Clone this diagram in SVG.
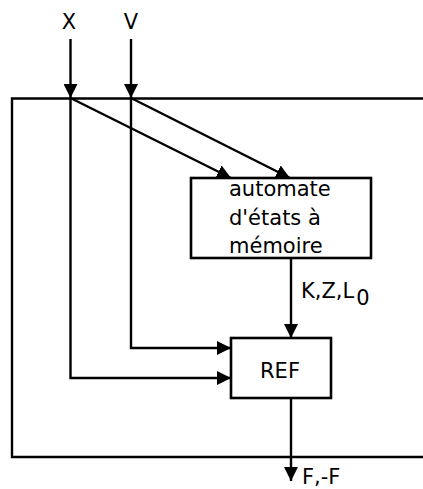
<svg xmlns="http://www.w3.org/2000/svg" width="423" height="489" viewBox="0 0 423 489">
<style>
.ln{fill:none;stroke:#000;stroke-width:2.4}
.bx{fill:#fff;stroke:#000;stroke-width:2.6}
text{font-family:"DejaVu Sans",sans-serif;font-size:21px;fill:#000}
</style>
<defs>
<marker id="ah" markerWidth="14" markerHeight="14" refX="14" refY="7" orient="auto" markerUnits="userSpaceOnUse">
<path d="M0,0 L14,7 L0,14 Z" fill="#000"/>
</marker>
</defs>
<g id="frame"><path class="ln" d="M430,98.5 H12 V457 H430" stroke-width="2.6"/></g>
<g id="connectors">
<path class="ln" d="M70.5,39 V98" marker-end="url(#ah)"/>
<path class="ln" d="M131,39 V98" marker-end="url(#ah)"/>
<path class="ln" d="M70.5,98 L231,178" marker-end="url(#ah)"/>
<path class="ln" d="M131,98 L290,178" marker-end="url(#ah)"/>
<path class="ln" d="M131,98 V348 H231" marker-end="url(#ah)"/>
<path class="ln" d="M70.5,98 V378 H231" marker-end="url(#ah)"/>
<path class="ln" d="M291,258 V338" marker-end="url(#ah)"/>
<path class="ln" d="M291,398 V481" marker-end="url(#ah)"/>
</g>
<g id="automate">
<rect class="bx" x="191" y="178" width="180" height="80"/>
<text x="229" y="196">automate</text>
<text x="229" y="225">d'états à</text>
<text x="229" y="253">mémoire</text>
</g>
<g id="ref">
<rect class="bx" x="231" y="338" width="100" height="60"/>
<text x="280" y="378" text-anchor="middle">REF</text>
</g>
<g id="labels">
<text x="69" y="29" text-anchor="middle">X</text>
<text x="131" y="29" text-anchor="middle">V</text>
<text x="301" y="298">K,Z,L<tspan dx="2" dy="7">0</tspan></text>
<text x="302" y="484">F,-F</text>
</g>
</svg>
